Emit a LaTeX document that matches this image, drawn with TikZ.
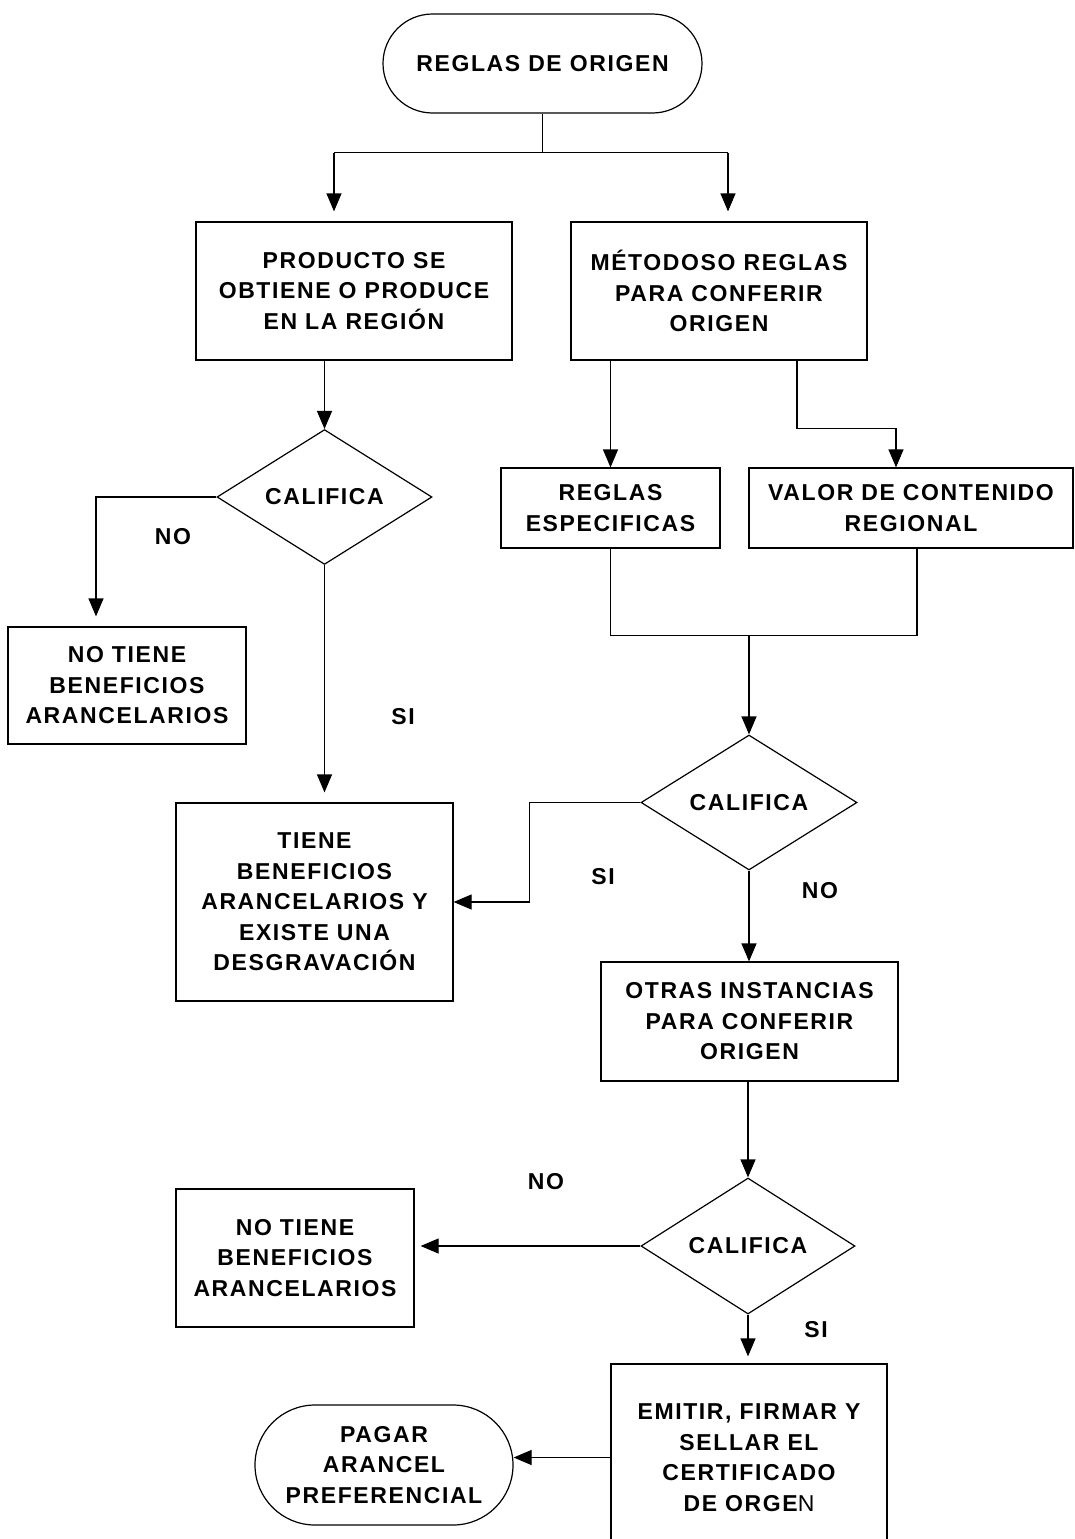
\documentclass[tikz,border=0pt]{standalone}
\usepackage{fontspec}
\newfontfamily\flowfont{Liberation Sans}[LetterSpace=7]
\usetikzlibrary{arrows.meta,shapes.geometric,shapes.misc}

\begin{document}
\begin{tikzpicture}[x=1pt,y=-1pt,
  every node/.style={font=\flowfont\bfseries\fontsize{23}{30.5}\selectfont,
                     align=center, inner sep=0pt},
  box/.style={draw, line width=1.2pt, rectangle},
  term/.style={draw, line width=1.2pt, rounded rectangle},
  decision/.style={draw, line width=1.2pt, diamond},
  ln/.style={line width=1.2pt},
  arr/.style={line width=1.2pt, -{Triangle[length=18pt,width=15pt]}}]

\useasboundingbox (0,0) rectangle (1075,1539);

% ---- shapes ----
\node[term, minimum width=319pt, minimum height=99pt] (start) at (542.5,63.5) {REGLAS DE ORIGEN};

\node[box, minimum width=316pt, minimum height=138pt] (prod) at (354,291)
  {PRODUCTO SE\\OBTIENE O PRODUCE\\EN LA REGIÓN};
\node[box, minimum width=296pt, minimum height=138pt] (metodo) at (719,291)
  {MÉTODOSO REGLAS\\PARA CONFERIR\\ORIGEN};

\node[decision, minimum width=215pt, minimum height=134pt] (q1) at (324.5,497) {CALIFICA};
\node[box, minimum width=238pt, minimum height=117pt] (nt1) at (127,685.5)
  {NO TIENE\\BENEFICIOS\\ARANCELARIOS};
\node[box, minimum width=277pt, minimum height=198pt] (tiene) at (314.5,902)
  {TIENE\\BENEFICIOS\\ARANCELARIOS Y\\EXISTE UNA\\DESGRAVACIÓN};

\node[box, minimum width=219pt, minimum height=80pt] (reglas) at (610.5,508)
  {REGLAS\\ESPECIFICAS};
\node[box, minimum width=324pt, minimum height=80pt] (valor) at (911,508)
  {VALOR DE CONTENIDO\\REGIONAL};

\node[decision, minimum width=216pt, minimum height=135pt] (q2) at (749,802.5) {CALIFICA};
\node[box, minimum width=297pt, minimum height=119pt] (otras) at (749.5,1021.5)
  {OTRAS INSTANCIAS\\PARA CONFERIR\\ORIGEN};

\node[decision, minimum width=214pt, minimum height=136pt] (q3) at (748,1246) {CALIFICA};
\node[box, minimum width=238pt, minimum height=138pt] (nt2) at (295,1258)
  {NO TIENE\\BENEFICIOS\\ARANCELARIOS};
\node[box, minimum width=276pt, minimum height=187pt] (emitir) at (749,1457.5)
  {EMITIR, FIRMAR Y\\SELLAR EL\\CERTIFICADO\\DE ORGE{\mdseries N}};
\node[term, minimum width=258pt, minimum height=120pt] (pagar) at (384,1465)
  {PAGAR\\ARANCEL\\PREFERENCIAL};

% ---- branch labels ----
\node (lno1) at (173,537) {NO};
\node (lsi1) at (403,717) {SI};
\node (lsi2) at (603,877) {SI};
\node (lno2) at (820,891) {NO};
\node (lno3) at (546,1182) {NO};
\node (lsi3) at (816,1330) {SI};

% ---- connectors ----
\coordinate (pin) at ([xshift=-20pt]prod.north);
\coordinate (min) at ([xshift=9pt]metodo.north);
\draw[ln] (start.south) -- ++(0,39) coordinate (split);
\draw[ln] (pin |- split) -- (min |- split);
\draw[arr, shorten >=10pt] (pin |- split) -- (pin);
\draw[arr, shorten >=10pt] (min |- split) -- (min);

\draw[arr] (q1.north |- prod.south) -- (q1.north);
\coordinate (nt1in) at ([xshift=-31pt]nt1.north);
\draw[arr, shorten >=10pt] (q1.west) -| (nt1in);
\draw[arr, shorten >=10pt] (q1.south) -- (q1.south |- tiene.north);

\coordinate (mout) at ([xshift=78pt]metodo.south);
\coordinate (vin) at ([xshift=-15pt]valor.north);
\draw[arr] (reglas.north |- metodo.south) -- (reglas.north);
\draw[arr] (mout) -- ++(0,68) -| (vin);

\coordinate (vout) at ([xshift=6pt]valor.south);
\draw[ln] (reglas.south) -- ++(0,87) coordinate (mrg) -| (vout);
\draw[arr] (q2.north |- mrg) -- (q2.north);

\draw[arr] (q2.west) -- ++(-111,0) |- (tiene.east);
\draw[arr] (q2.south) -- (q2.south |- otras.north);
\draw[arr] (q3.north |- otras.south) -- (q3.north);

\draw[arr, shorten >=6pt] (q3.west) -- (q3.west -| nt2.east);
\draw[arr, shorten >=7pt] (q3.south) -- (q3.south |- emitir.north);
\draw[arr] (emitir.west) -- (emitir.west -| pagar.east);
\end{tikzpicture}
\end{document}
